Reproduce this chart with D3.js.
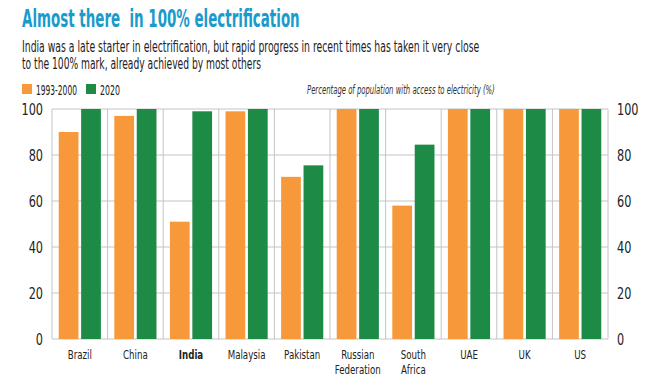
<!DOCTYPE html>
<html><head><meta charset="utf-8">
<script src="https://cdn.jsdelivr.net/npm/d3@7"></script>
<style>
body{margin:0;background:#fff;}
text{font-family:"DejaVu Sans Condensed","DejaVu Sans",sans-serif;font-stretch:condensed;white-space:pre;}
</style></head>
<body><svg id="c" width="660" height="378"></svg>
<script>
const categories = ["Brazil","China","India","Malaysia","Pakistan","Russian\nFederation","South\nAfrica","UAE","UK","US"];
const series1993 = [90, 97, 51, 99, 70.5, 100, 58, 100, 100, 100];
const series2020 = [100, 100, 99, 100, 75.5, 100, 84.5, 100, 100, 100];
const seriesNames = ["1993-2000","2020"];
const yTicks = [0,20,40,60,80,100];

const colors = {"1993-2000":"#f7993a","2020":"#1d8a45"};
const svg = d3.select("#c");
const m = {l:52, r:608, t:109, b:339};

function squeeze(sel, k){
  sel.each(function(){
    const w = this.getComputedTextLength();
    d3.select(this).attr("textLength", w*k).attr("lengthAdjust","spacingAndGlyphs");
  });
}
function fitText(x, y, w, str, attrs, anchor){
  const t = svg.append("text").attr("x",0).attr("y",0).text(str);
  Object.entries(attrs).forEach(([k,v])=>t.attr(k,v));
  const nat = t.node().getComputedTextLength();
  const k = w/nat;
  const x0 = anchor==="end" ? x - w : x;
  t.attr("transform",`translate(${x0},${y}) scale(${k},1)`);
  return t;
}

const x0 = d3.scaleBand().domain(categories).range([m.l, m.r]).paddingInner(0).paddingOuter(0);
const y = d3.scaleLinear().domain([0,100]).range([m.b, m.t]);

fitText(22, 27, 278, "Almost there  in 100% electrification",
  {"fill":"#1a9bcc","font-size":25.5,"font-weight":"bold"});
fitText(22, 52, 458, "India was a late starter in electrification, but rapid progress in recent times has taken it very close",
  {"fill":"#222","font-size":15.5});
fitText(22, 69, 239, "to the 100% mark, already achieved by most others",
  {"fill":"#222","font-size":15.5});

const leg = [{n:seriesNames[0], x:22, w:41},{n:seriesNames[1], x:86, w:20}];
leg.forEach(d=>{
  svg.append("rect").attr("x",d.x).attr("y",84).attr("width",10).attr("height",10).attr("fill",colors[d.n]);
  fitText(d.x+14, 94.5, d.w, d.n, {"font-size":14,"fill":"#222"});
});
fitText(495, 94, 188, "Percentage of population with access to electricity (%)",
  {"font-size":12.5,"font-style":"italic","fill":"#333"}, "end");

svg.append("g").selectAll("line").data(yTicks).join("line")
  .attr("x1",m.l).attr("x2",m.r).attr("y1",d=>y(d)).attr("y2",d=>y(d))
  .attr("stroke","#c4c4c4").attr("stroke-width",1);
const seps = categories.map(c=>x0(c)).concat([m.r]);
svg.append("g").selectAll("line").data(seps).join("line")
  .attr("x1",d=>d).attr("x2",d=>d).attr("y1",m.t).attr("y2",m.b)
  .attr("stroke","#c4c4c4").attr("stroke-width",1);

const x1 = d3.scaleBand().domain(seriesNames).range([0, x0.bandwidth()]).paddingInner(0.12).paddingOuter(0.3);
const data = categories.map((c,i)=>({c, vals:[{k:seriesNames[0],v:series1993[i]},{k:seriesNames[1],v:series2020[i]}]}));
const g = svg.append("g").selectAll("g").data(data).join("g").attr("transform",d=>`translate(${x0(d.c)},0)`);
g.selectAll("rect").data(d=>d.vals).join("rect")
  .attr("x",d=>x1(d.k)).attr("width",x1.bandwidth())
  .attr("y",d=>y(d.v)).attr("height",d=>y(0)-y(d.v))
  .attr("fill",d=>colors[d.k]);

const yl = d3.axisLeft(y).tickValues(yTicks).tickSize(0).tickPadding(9);
const ya = svg.append("g").attr("transform",`translate(${m.l},0)`).call(yl);
ya.select(".domain").remove();
ya.selectAll("text").attr("font-size",16.5).attr("fill","#222").attr("font-family",null).call(squeeze,0.76);
const yr = d3.axisRight(y).tickValues(yTicks).tickSize(0).tickPadding(9);
const yb = svg.append("g").attr("transform",`translate(${m.r},0)`).call(yr);
yb.select(".domain").remove();
yb.selectAll("text").attr("font-size",16.5).attr("fill","#222").attr("font-family",null).call(squeeze,0.76);

const xl = svg.append("g");
categories.forEach(c=>{
  const lines = c.split("\n");
  lines.forEach((l,i)=>{
    xl.append("text").attr("x",x0(c)+x0.bandwidth()/2).attr("y",359+i*15)
      .attr("text-anchor","middle").attr("font-size",13).attr("fill","#222")
      .attr("font-weight",c==="India"?"bold":"normal")
      .text(l).call(squeeze,0.74);
  });
});
</script></body></html>
